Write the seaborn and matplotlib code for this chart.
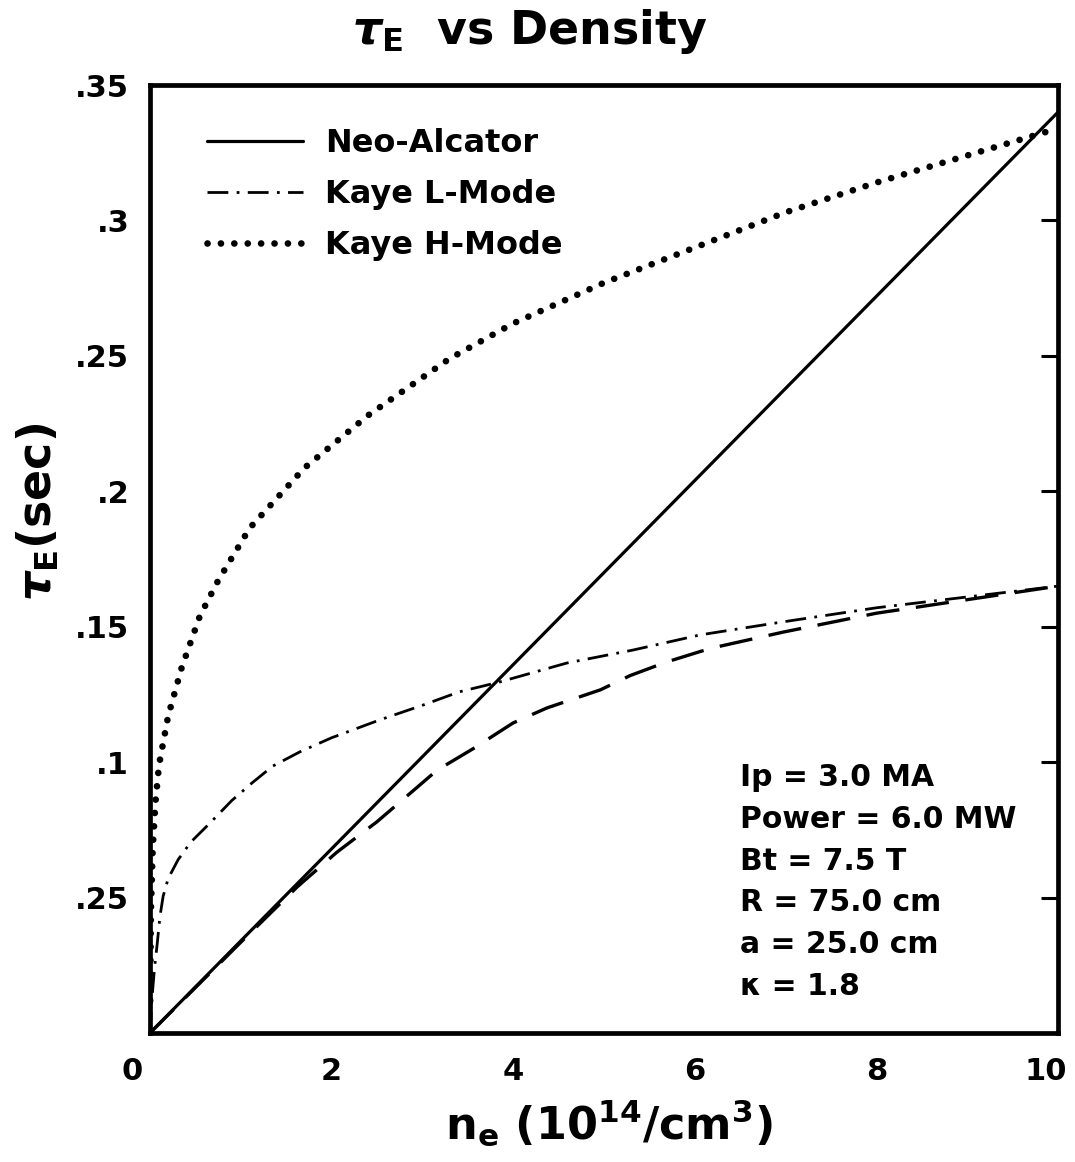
import matplotlib
matplotlib.use("Agg")
import matplotlib.pyplot as plt
import matplotlib.transforms as mtransforms
import seaborn as sns

# Values
density_neo = [0, 10]
tau_neo = [0, 0.34]

density_h = [0.002, 0.01, 0.03, 0.06, 0.1, 0.2, 0.35, 0.55, 0.75, 1.1, 1.7,
             2.4, 3.3, 4, 5, 6, 7, 8, 9, 10]
tau_h = [0.012, 0.045, 0.068, 0.085, 0.099, 0.117, 0.135, 0.154, 0.167,
         0.1865, 0.2086, 0.228, 0.249, 0.262, 0.277, 0.290, 0.303, 0.314,
         0.324, 0.334]

density_l = [0, 0.02, 0.05, 0.08, 0.11, 0.145, 0.2, 0.31, 0.45, 0.66, 0.9,
             1.13, 1.35, 1.65, 2.0, 2.53, 3.0, 3.41, 3.85, 4.59, 5.32, 6.06,
             6.97, 8, 9, 10]
tau_l = [0, 0.012, 0.024, 0.033, 0.043, 0.0505, 0.057, 0.064, 0.0705, 0.0775,
         0.0858, 0.0925, 0.0985, 0.1038, 0.109, 0.1156, 0.121, 0.126, 0.1296,
         0.1366, 0.1414, 0.147, 0.1518, 0.157, 0.161, 0.165]

density_combined = [0, 1, 1.62, 2.06, 2.5, 2.9, 3.16, 3.56, 4.0, 4.37, 4.96,
                    5.29, 5.69, 6.17, 6.57, 6.97, 8, 9, 10]
tau_combined = [0, 0.0335, 0.0539, 0.0668, 0.078, 0.0895, 0.097, 0.105,
                0.1145, 0.120, 0.1267, 0.132, 0.137, 0.142, 0.145, 0.148,
                0.155, 0.160, 0.165]

x_ticks = [0, 2, 4, 6, 8, 10]
y_ticks = [0.05, 0.1, 0.15, 0.2, 0.25, 0.3, 0.35]
y_tick_labels = ['.25', '.1', '.15', '.2', '.25', '.3', '.35']

params = ['Ip = 3.0 MA', 'Power = 6.0 MW', 'Bt = 7.5 T',
          'R = 75.0 cm', 'a = 25.0 cm', 'κ = 1.8']


def main():
    sns.set_style('white', rc={'text.color': 'black', 'axes.labelcolor': 'black',
                               'xtick.color': 'black', 'ytick.color': 'black'})
    plt.rcParams['font.family'] = ['DejaVu Sans']
    plt.rcParams['font.weight'] = 'bold'
    plt.rcParams['mathtext.fontset'] = 'custom'
    plt.rcParams['mathtext.rm'] = 'DejaVu Sans:bold'
    plt.rcParams['mathtext.it'] = 'DejaVu Sans:italic:bold'
    plt.rcParams['mathtext.bf'] = 'DejaVu Sans:bold'

    fig = plt.figure(figsize=(10.75, 11.62), dpi=100)
    ax = fig.add_axes([0.1395, 0.111, 0.8447, 0.8158])

    sns.lineplot(x=density_neo, y=tau_neo, ax=ax, color='black',
                 linewidth=2.3, label='Neo-Alcator')
    sns.lineplot(x=density_l, y=tau_l, ax=ax, color='black', linewidth=2.0,
                 linestyle=(0, (7.5, 3, 1, 3)), label='Kaye L-Mode')
    sns.lineplot(x=density_h, y=tau_h, ax=ax, color='black', linewidth=4.8,
                 linestyle=(0, (0.01, 2.0)), dash_capstyle='round',
                 label='Kaye H-Mode')
    sns.lineplot(x=density_combined, y=tau_combined, ax=ax, color='black',
                 linewidth=2.4, linestyle=(0, (10, 5)), label='_nolegend_')

    ax.set_xlim(0, 10)
    ax.set_ylim(0, 0.35)
    ax.set_xticks(x_ticks)
    ax.set_xticklabels([str(t) for t in x_ticks])
    ax.set_yticks(y_ticks)
    ax.set_yticklabels(y_tick_labels)
    ax.tick_params(axis='both', direction='in', length=12, width=2.2,
                   labelsize=22, color='black')
    ax.tick_params(axis='y', right=True, pad=15)
    ax.tick_params(axis='x', pad=17)
    for spine in ax.spines.values():
        spine.set_linewidth(3.4)
        spine.set_color('black')

    # the first and last x labels sit slightly left of their ticks
    xlabels = ax.get_xticklabels()
    xlabels[0].set_transform(xlabels[0].get_transform() +
                             mtransforms.ScaledTranslation(-0.18, 0, fig.dpi_scale_trans))
    xlabels[-1].set_transform(xlabels[-1].get_transform() +
                              mtransforms.ScaledTranslation(-0.12, 0, fig.dpi_scale_trans))

    fig.text(0.493, 0.973, r'$\tau_{\mathrm{E}}$  vs Density', fontsize=33,
             fontweight='bold', ha='center', va='center')
    ax.set_ylabel(r'$\tau_{\mathrm{E}}$(sec)', fontsize=33, fontweight='bold')
    ax.yaxis.set_label_coords(-0.097, 0.55)
    ax.set_xlabel(r'n$_{\mathrm{e}}$ (10$^{14}$/cm$^{3}$)', fontsize=32,
                  fontweight='bold')
    ax.xaxis.set_label_coords(0.505, -0.068)

    ax.legend(loc='upper left', bbox_to_anchor=(0.049, 0.968), frameon=False,
              fontsize=23, handlelength=3.0, handletextpad=0.68,
              labelspacing=0.62, borderaxespad=0)

    ax.text(0.65, 0.285, '\n'.join(params), transform=ax.transAxes,
            va='top', ha='left', fontsize=21.5, fontweight='bold',
            linespacing=1.56)

    fig.savefig('out.png', dpi=100)


if __name__ == "__main__":
    main()
